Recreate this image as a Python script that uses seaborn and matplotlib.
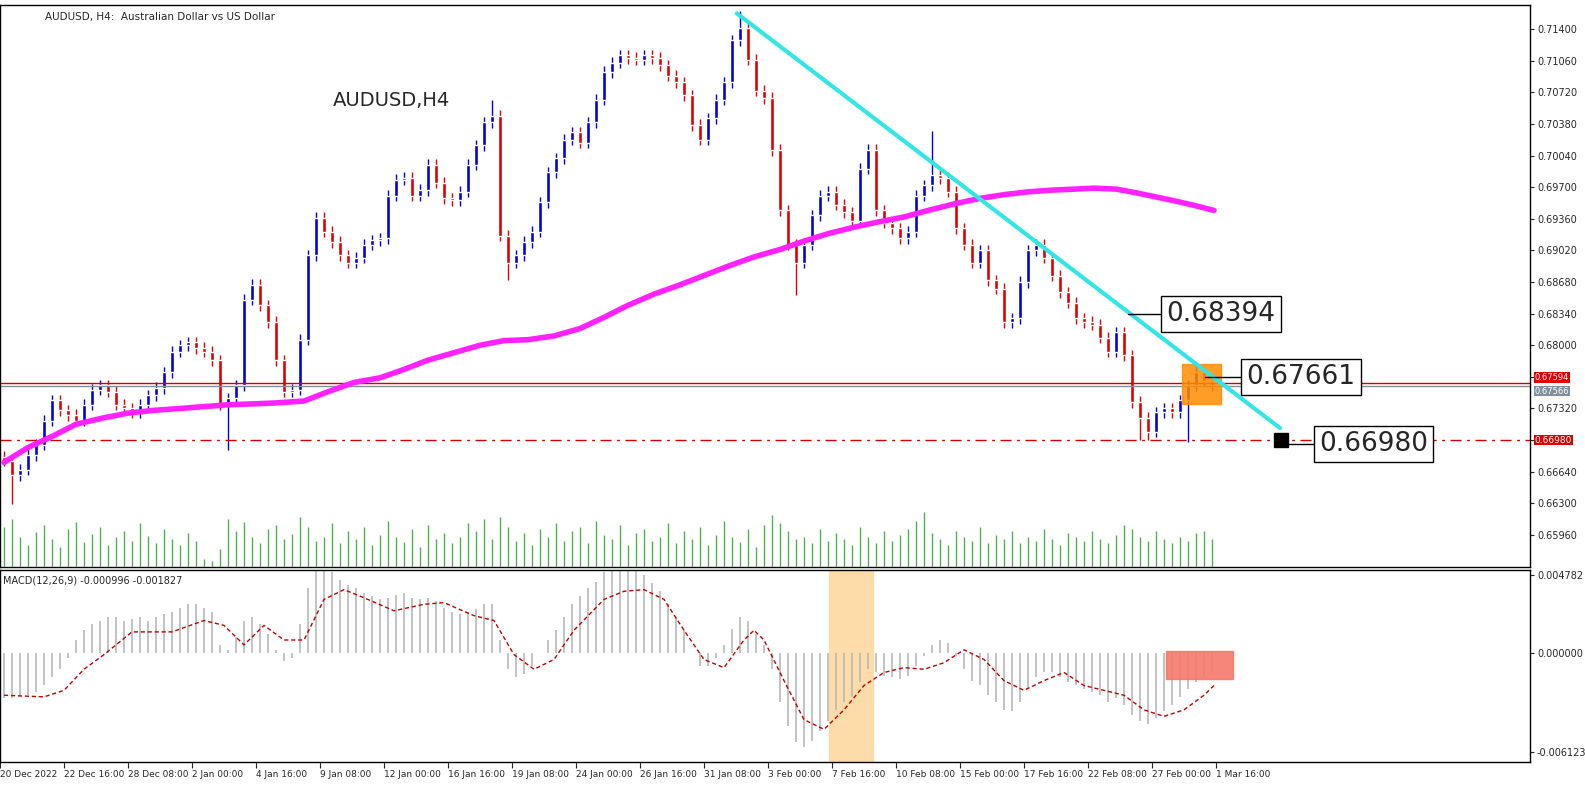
import numpy as np
import pandas as pd
import matplotlib
matplotlib.use("Agg")
import matplotlib.pyplot as plt
from matplotlib.patches import Rectangle
import seaborn as sns

sns.set_style("white")
plt.rcParams["font.family"] = ["DejaVu Sans"]

# 8-hour closes (20 Dec 2022 -> 1 Mar 2023)
closes = [
    0.6676, 0.6660, 0.6666, 0.6682, 0.6693, 0.6719, 0.6741, 0.6730, 0.6725, 0.6719,
    0.6736, 0.6752, 0.6757, 0.6750, 0.6736, 0.6732, 0.6728, 0.6736, 0.6746, 0.6754,
    0.6771, 0.6793, 0.6800, 0.6803, 0.6797, 0.6793, 0.6784, 0.6736, 0.6743, 0.6757,
    0.6849, 0.6865, 0.6843, 0.6825, 0.6784, 0.6750, 0.6752, 0.6806, 0.6897, 0.6937,
    0.6922, 0.6911, 0.6897, 0.6889, 0.6894, 0.6908, 0.6913, 0.6915, 0.6961, 0.6978,
    0.6980, 0.6961, 0.6967, 0.6994, 0.6975, 0.6958, 0.6956, 0.6965, 0.6994, 0.7015,
    0.7040, 0.7047, 0.6918, 0.6889, 0.6897, 0.6911, 0.6922, 0.6954, 0.6986, 0.7001,
    0.7021, 0.7029, 0.7018, 0.7040, 0.7064, 0.7094, 0.7104, 0.7112, 0.7109, 0.7107,
    0.7112, 0.7109, 0.7101, 0.7090, 0.7083, 0.7069, 0.7037, 0.7021, 0.7044, 0.7064,
    0.7083, 0.7128, 0.7141, 0.7107, 0.7074, 0.7066, 0.7010, 0.6945, 0.6908, 0.6889,
    0.6908, 0.6940, 0.6961, 0.6965, 0.6951, 0.6943, 0.6934, 0.6990, 0.7010, 0.6945,
    0.6932, 0.6926, 0.6915, 0.6922, 0.6961, 0.6972, 0.6983, 0.6980, 0.6965, 0.6926,
    0.6908, 0.6889, 0.6902, 0.6870, 0.6861, 0.6825, 0.6829, 0.6868, 0.6902, 0.6908,
    0.6894, 0.6875, 0.6857, 0.6846, 0.6829, 0.6825, 0.6822, 0.6808, 0.6793, 0.6814,
    0.6789, 0.6739, 0.6722, 0.6707, 0.6728, 0.6732, 0.6728, 0.6741, 0.6757, 0.6771,
    0.6762, 0.6757,
]
first_open = 0.6680
# notable wick extremes: bar index -> (high, low)
wick_marks = {1: (None, 0.6629), 28: (None, 0.6687), 61: (0.7064, None), 63: (None, 0.6870),
              92: (0.7160, None), 99: (None, 0.6854), 116: (0.7031, None),
              142: (None, 0.6698), 143: (None, 0.6698), 148: (None, 0.6696), 149: (0.6782, None)}
wick_default = 0.0006

volumes = [
    40, 48, 30, 22, 35, 42, 28, 20, 38, 45, 25, 33, 40, 22, 30, 36, 26, 44, 31, 24,
    38, 28, 22, 34, 26, 8, 6, 18, 48, 36, 45, 30, 24, 38, 42, 28, 33, 50, 40, 26,
    30, 44, 24, 36, 28, 40, 22, 32, 46, 30, 25, 38, 20, 42, 28, 34, 24, 30, 44, 36,
    48, 28, 50, 40, 26, 34, 22, 38, 30, 44, 26, 36, 40, 24, 46, 32, 28, 42, 22, 34,
    38, 26, 30, 44, 24, 36, 28, 40, 22, 32, 46, 30, 25, 38, 20, 42, 52, 44, 36, 28,
    30, 24, 38, 26, 34, 28, 22, 40, 30, 24, 36, 26, 32, 38, 46, 55, 34, 28, 22, 36,
    30, 26, 40, 24, 32, 28, 36, 24, 30, 26, 38, 28, 22, 34, 30, 26, 36, 28, 24, 32,
    42, 38, 30, 26, 36, 28, 24, 30, 26, 34, 36, 28,
]

macd_hist = [
    -0.0028, -0.0028, -0.0027, -0.0026, -0.0024, -0.0020, -0.0015, -0.0010, -0.0003, 0.0008,
    0.0014, 0.0018, 0.0020, 0.0022, 0.0022, 0.0020, 0.0021, 0.0022, 0.0020, 0.0022,
    0.0024, 0.0025, 0.0028, 0.0030, 0.0030, 0.0028, 0.0025, 0.0005, 0.0002, 0.0010,
    0.0020, 0.0022, 0.0018, 0.0012, 0.0002, -0.0005, -0.0003, 0.0018, 0.0040, 0.0052,
    0.0053, 0.0050, 0.0045, 0.0042, 0.0040, 0.0037, 0.0035, 0.0033, 0.0034, 0.0036,
    0.0037, 0.0034, 0.0033, 0.0034, 0.0032, 0.0028, 0.0025, 0.0024, 0.0025, 0.0027,
    0.0030, 0.0030, 0.0008, -0.0010, -0.0015, -0.0013, -0.0008, 0.0000, 0.0008, 0.0014,
    0.0022, 0.0030, 0.0035, 0.0040, 0.0044, 0.0050, 0.0053, 0.0055, 0.0055, 0.0052,
    0.0048, 0.0043, 0.0038, 0.0030, 0.0022, 0.0014, 0.0000, -0.0008, -0.0008, -0.0003,
    0.0005, 0.0015, 0.0022, 0.0020, 0.0012, 0.0005, -0.0010, -0.0030, -0.0045, -0.0055,
    -0.0058, -0.0054, -0.0048, -0.0042, -0.0035, -0.0030, -0.0027, -0.0018, -0.0010, -0.0012,
    -0.0014, -0.0015, -0.0016, -0.0014, -0.0008, -0.0002, 0.0005, 0.0008, 0.0006, -0.0002,
    -0.0010, -0.0017, -0.0020, -0.0026, -0.0030, -0.0035, -0.0036, -0.0030, -0.0022, -0.0015,
    -0.0012, -0.0012, -0.0015, -0.0018, -0.0020, -0.0022, -0.0024, -0.0026, -0.0030, -0.0028,
    -0.0032, -0.0038, -0.0042, -0.0044, -0.0040, -0.0036, -0.0032, -0.0027, -0.0022, -0.0018,
    -0.0014, -0.0012,
]

# signal line (dashed red) and moving average (magenta), sampled at bar positions
signal_pos = [0, 5, 7.5, 10, 12.5, 16, 21, 25, 27.5, 30, 32.5, 35, 37.5, 40, 42.5, 45, 48.75,
              52.5, 55, 58.75, 61.25, 63.75, 66.25, 68.75, 71.25, 75, 77.5, 80, 82.5, 85,
              87.5, 90, 92.5, 93.75, 95, 97.5, 100, 102.5, 105, 107.5, 110, 112.5, 115, 117.5,
              120, 122.5, 125, 127.5, 130, 132.5, 135, 137.5, 140, 142.5, 145, 147.5, 150, 151.25]
signal_vals = [-0.0026, -0.0027, -0.0023, -0.0010, -0.0001, 0.0013, 0.0013, 0.0020, 0.0017, 0.0005,
               0.0017, 0.0008, 0.0008, 0.0033, 0.0039, 0.0034, 0.0026, 0.0030, 0.0031, 0.0023,
               0.0020, -0.0001, -0.0010, -0.0004, 0.0014, 0.0033, 0.0038, 0.0039, 0.0033, 0.0014,
               -0.0004, -0.0009, 0.0008, 0.0014, 0.0008, -0.0017, -0.0041, -0.0047, -0.0035, -0.0020,
               -0.0012, -0.0009, -0.0010, -0.0006, 0.0002, -0.0004, -0.0017, -0.0023, -0.0017, -0.0012,
               -0.0020, -0.0023, -0.0026, -0.0035, -0.0039, -0.0035, -0.0026, -0.0020]
ma_pos = [0, 3, 6.25, 9, 12.5, 15.5, 18.75, 22, 25, 28, 31.25, 34, 37.5, 40.5, 43.75, 47, 50,
          53, 56.25, 59.5, 62.5, 65.5, 68.75, 72, 75, 78, 81.25, 84.5, 87.5, 90.5, 93.75, 97,
          100, 103, 106.25, 109.5, 112.5, 115.5, 118.75, 122, 125, 128, 131.25, 134, 136.25,
          139, 141.5, 143.75, 146.5, 149, 151.25]
ma_vals = [0.6674, 0.6690, 0.6703, 0.6715, 0.6722, 0.6727, 0.6730, 0.6732, 0.6734, 0.6736,
           0.6737, 0.6738, 0.6740, 0.6750, 0.6760, 0.6765, 0.6774, 0.6784, 0.6792, 0.6800,
           0.6805, 0.6806, 0.6810, 0.6818, 0.6830, 0.6843, 0.6855, 0.6865, 0.6875, 0.6885,
           0.6895, 0.6903, 0.6912, 0.6920, 0.6927, 0.6933, 0.6938, 0.6945, 0.6952, 0.6958,
           0.6962, 0.6965, 0.6967, 0.6968, 0.6969, 0.6968, 0.6964, 0.6960, 0.6955, 0.6950, 0.6945]

date_labels = ["20 Dec 2022", "22 Dec 16:00", "28 Dec 08:00", "2 Jan 00:00", "4 Jan 16:00",
               "9 Jan 08:00", "12 Jan 00:00", "16 Jan 16:00", "19 Jan 08:00", "24 Jan 00:00",
               "26 Jan 16:00", "31 Jan 08:00", "3 Feb 00:00", "7 Feb 16:00", "10 Feb 08:00",
               "15 Feb 00:00", "17 Feb 16:00", "22 Feb 08:00", "27 Feb 00:00", "1 Mar 16:00"]
price_ticks = [0.65960, 0.66300, 0.66640, 0.66980, 0.67320, 0.67660, 0.68000, 0.68340,
               0.68680, 0.69020, 0.69360, 0.69700, 0.70040, 0.70380, 0.70720, 0.71060, 0.71400]

trend_pts = [(91.6, 0.7157), (159.5, 0.6711)]
level_support = 0.66980
level_bid = 0.67566
level_ask = 0.67594

# ---- build candles
n = len(closes)
idx = np.arange(n)
opens = [first_open] + closes[:-1]
highs, lows = [], []
for i in range(n):
    h = max(opens[i], closes[i]) + wick_default
    l = min(opens[i], closes[i]) - wick_default
    if i in wick_marks:
        mh, ml = wick_marks[i]
        h = mh if mh is not None else h
        l = ml if ml is not None else l
    highs.append(h)
    lows.append(l)
df = pd.DataFrame({"x": idx, "open": opens, "high": highs, "low": lows, "close": closes,
                   "vol": volumes, "hist": macd_hist})
up = df["close"] >= df["open"]

W, H = 1585, 789
fig = plt.figure(figsize=(W / 100, H / 100), dpi=100)
fig.patch.set_facecolor("white")
ax = fig.add_axes([0, (H - 567) / H, 1530 / W, 562 / H])
axm = fig.add_axes([0, (H - 762) / H, 1530 / W, 192 / H])

xlim = (-0.5, (1530 - 4) / 8)
BLUE, RED = "#0000e0", "#e00000"

# volume on a hidden twin axis (same panel, pixel-like units)
axv = ax.twinx()
axv.vlines(df["x"], 0, df["vol"], color="#4caf50", lw=1)
axv.set_ylim(0, 562)
axv.set_xlim(*xlim)
axv.set_yticks([])
for s in axv.spines.values():
    s.set_visible(False)

ax.vlines(df["x"][up], df["low"][up], df["high"][up], color=BLUE, lw=1, zorder=2)
ax.vlines(df["x"][~up], df["low"][~up], df["high"][~up], color=RED, lw=1, zorder=2)
body = (df["close"] - df["open"]).abs().clip(lower=0.00008)
ax.bar(df["x"][up], body[up], bottom=df["open"][up], width=0.6, color=BLUE, zorder=2)
ax.bar(df["x"][~up], body[~up], bottom=df["close"][~up], width=0.6, color=RED, zorder=2)

sns.lineplot(x=ma_pos, y=ma_vals, ax=ax, color="#ff22ff", lw=4, zorder=4)
ax.plot([p[0] for p in trend_pts], [p[1] for p in trend_pts], color="#33e6e6", lw=3, zorder=5)

ax.axhline(level_ask, color="#d00000", lw=1)
ax.axhline(level_bid, color="#8090a0", lw=1)
ax.axhline(level_support, color="#d00000", lw=1, ls=(0, (8, 4, 2, 4)))

ax.add_patch(Rectangle((147.25, 0.6737), 4.85, 0.0043, color="#ff8c00", alpha=0.85, zorder=3))
ax.plot(159.6, level_support, marker="s", color="black", ms=10, zorder=6)

def price_box(x_from, x_box, y, text):
    ax.plot([x_from, x_box], [y, y], color="black", lw=1, zorder=6)
    ax.text(x_box + 0.4, y, text, fontsize=19, va="center", ha="left", zorder=7,
            bbox=dict(boxstyle="square,pad=0.2", fc="white", ec="black", lw=1))

price_box(140.5, 144.9, 0.68394 - 0.0006, "0.68394")
price_box(150.1, 154.9, 0.67661, "0.67661")
price_box(160.5, 164.0, level_support - 0.0004, "0.66980")

ax.set_xlim(*xlim)
ax.set_ylim(0.65615, 0.7166)
ax.yaxis.tick_right()
ax.set_yticks(price_ticks)
# labels hidden where the price boxes sit on top of them
covered = {0.66980, 0.67660}
ax.set_yticklabels(["" if t in covered else f"{t:.5f}" for t in price_ticks], fontsize=7)
ax.tick_params(axis="y", length=3, pad=2)
ax.tick_params(axis="x", bottom=False, labelbottom=False)

ax.text(1.003, level_ask + 0.0001, f"{level_ask:.5f}", transform=ax.get_yaxis_transform(),
        fontsize=6, va="bottom", ha="left", color="white", zorder=8,
        bbox=dict(boxstyle="square,pad=0.1", fc="#e00000", ec="none"))
ax.text(1.003, level_bid - 0.0001, f"{level_bid:.5f}", transform=ax.get_yaxis_transform(),
        fontsize=6, va="top", ha="left", color="white", zorder=8,
        bbox=dict(boxstyle="square,pad=0.1", fc="#8090a0", ec="none"))
ax.text(1.003, level_support, f"{level_support:.5f}", transform=ax.get_yaxis_transform(),
        fontsize=6.5, va="center", ha="left", color="white", zorder=8,
        bbox=dict(boxstyle="square,pad=0.1", fc="#e00000", ec="none"))

ax.text(45 / 1530, 1 - 7 / 562, "AUDUSD, H4:  Australian Dollar vs US Dollar",
        transform=ax.transAxes, fontsize=7.5, va="top")
ax.text(333 / 1530, 1 - 86 / 562, "AUDUSD,H4", transform=ax.transAxes, fontsize=14, va="top")

# ---- MACD panel
axm.add_patch(Rectangle((103.1, -0.0068), 5.5, 0.012, color="#fddcaa", zorder=0))
axm.vlines(df["x"], 0, df["hist"], color="#b8b8b8", lw=1.2, zorder=1)
sns.lineplot(x=signal_pos, y=signal_vals, ax=axm, color="#c00000", lw=1, ls=(0, (3, 2)), zorder=3)
axm.add_patch(Rectangle((145.25, -0.0016), 8.4, 0.0017, color="#f4796b", alpha=0.9, zorder=2))
axm.set_ylim(-0.00671, 0.00511)
axm.yaxis.tick_right()
axm.set_yticks([0.004782, 0.0, -0.006123])
axm.set_yticklabels(["0.004782", "0.000000", "-0.006123"], fontsize=7)
axm.tick_params(axis="y", length=3, pad=2)
axm.text(0.002, 0.97, "MACD(12,26,9) -0.000996 -0.001827", transform=axm.transAxes,
         fontsize=7, va="top")

tick_pos = [8 * i - 0.5 for i in range(len(date_labels))]
axm.set_xticks(tick_pos)
axm.set_xticklabels(date_labels, fontsize=6.5, ha="left")
axm.tick_params(axis="x", length=4, pad=2, bottom=True, direction="out")
axm.set_xlim(*xlim)

for a in (ax, axm):
    for s in a.spines.values():
        s.set_color("black")
        s.set_linewidth(1)

fig.savefig("out.png", dpi=100, facecolor="white")
